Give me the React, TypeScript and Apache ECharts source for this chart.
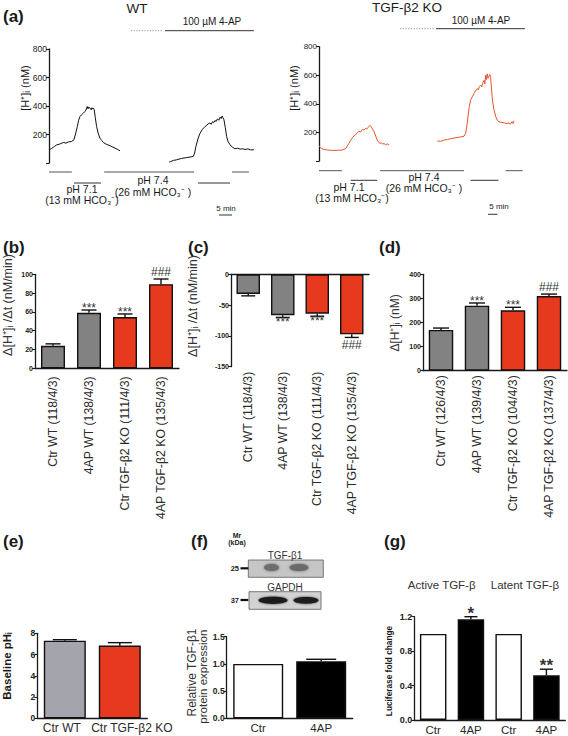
import React, { useEffect, useRef } from 'react';
import * as echarts from 'echarts';

const FONT = '"Liberation Sans", Arial, Helvetica, sans-serif';
const INK = '#1a1a1a';
const GREY = '#828282';
const GREY_E = '#a4a4ac';
const RED = '#e6391d';
const TRACE_RED = '#e6532c';

// ---------- (a) [H+]i traces: [time (min), [H+]i (nM)] ----------
const wtSeg1: [number, number][] = [
  [0.1, 93], [1.0, 102], [2.0, 115], [2.9, 127], [4.0, 132], [5.5, 144], [6.5, 140], [7.5, 148],
  [8.7, 151], [9.6, 163], [10.3, 210], [10.9, 256], [11.4, 300], [11.9, 326], [12.5, 338], [13.2, 350],
  [13.8, 361], [14.2, 372], [14.7, 396], [15.0, 380], [15.3, 392], [15.8, 385], [16.2, 374], [16.5, 388],
  [16.8, 378], [17.1, 384], [17.4, 373], [17.8, 320], [18.3, 256], [18.9, 210], [19.6, 174], [20.3, 158],
  [20.9, 144], [22.0, 132], [23.5, 121], [25.0, 108], [26.2, 97], [27.3, 86],
];
const wtSeg2: [number, number][] = [
  [46.2, 6], [46.8, 10], [47.8, 18], [49.0, 22], [51.0, 32], [53.0, 38], [55.5, 46], [56.0, 70],
  [56.5, 116], [57.3, 170], [58.1, 209], [59.0, 236], [60.0, 256], [60.6, 262], [61.2, 275], [61.9, 280],
  [62.4, 272], [62.9, 290], [63.4, 284], [63.8, 298], [64.3, 292], [64.8, 310], [65.3, 300], [65.8, 321],
  [66.2, 312], [66.6, 330], [66.9, 318], [67.3, 303], [67.8, 250], [68.3, 186], [68.9, 150], [69.6, 128],
  [70.5, 112], [71.5, 100], [72.5, 104], [73.5, 97], [74.5, 100], [75.4, 95], [76.5, 99], [77.6, 92], [78.8, 93],
];
const koSeg1: [number, number][] = [
  [0, 105], [0.6, 95], [1.3, 84], [2.2, 80], [3.2, 77], [4.5, 75], [5.8, 74], [7.5, 75], [9.0, 77],
  [10.3, 88], [11.5, 123], [12.2, 145], [12.8, 163], [13.5, 176], [14.1, 186], [14.8, 196], [15.4, 209],
  [16.0, 203], [16.7, 221], [17.3, 217], [18.0, 228], [18.4, 224], [18.8, 233], [19.3, 244], [19.6, 249],
  [20.1, 240], [20.6, 224], [21.2, 205], [21.8, 175], [22.4, 147], [23.0, 130], [23.5, 123], [24.0, 128],
  [24.5, 118], [25.0, 123], [25.5, 114], [26.2, 120], [26.9, 112],
];
const koSeg2: [number, number][] = [
  [45.5, 140], [46.8, 138], [48.1, 147], [49.4, 150], [50.6, 156], [51.9, 160], [53.2, 165], [54.5, 168],
  [55.8, 174], [56.4, 193], [56.9, 250], [57.3, 309], [57.8, 380], [58.3, 426], [59.0, 450], [59.6, 472],
  [60.2, 490], [60.9, 507], [61.3, 498], [61.7, 522], [62.2, 530], [62.6, 518], [63.0, 548], [63.5, 565],
  [63.8, 540], [64.1, 600], [64.4, 570], [64.7, 610], [65.0, 580], [65.4, 593], [65.7, 605], [66.0, 584],
  [66.3, 520], [66.7, 426], [67.3, 360], [68.0, 309], [68.6, 285], [69.2, 274], [70.2, 270], [71.2, 267],
  [72.2, 262], [73.1, 267], [73.6, 258], [74.2, 275], [74.6, 262], [75.0, 281],
];
// solution periods [start min, end min, level (0 = pH 7.4, 1 = pH 7.1)]
const wtSolutions: [number, number, number][] = [[0, 8.8, 0], [9.6, 20, 1], [21.2, 55.8, 0], [57.3, 69.6, 1], [70.4, 76.9, 0]];
const koSolutions: [number, number, number][] = [[0, 8.8, 0], [12.2, 22.4, 1], [23.5, 55.8, 0], [58.3, 69.0, 1], [71.8, 78.3, 0]];
// 4-AP application [dotted start, solid start, end] in min
const wtDrug = [31.5, 44.6, 78.8];
const koDrug = [31.2, 45.0, 79.2];

// ---------- (b)(c)(d) ----------
const bcCategories = ['Ctr WT (118/4/3)', '4AP WT (138/4/3)', 'Ctr TGF-β2 KO (111/4/3)', '4AP TGF-β2 KO (135/4/3)'];
const bValues = [24, 59, 54.5, 89.5];
const bErrTop = [26, 62, 57.8, 95];
const bMarks = ['', '***', '***', '###'];
const cValues = [-32, -66.5, -64, -97.5];
const cErrTop = [-35, -70, -68, -102.5];
const cMarks = ['', '***', '***', '###'];
const dCategories = ['Ctr WT (126/4/3)', '4AP WT (139/4/3)', 'Ctr TGF-β2 KO (104/4/3)', '4AP TGF-β2 KO (137/4/3)'];
const dValues = [169, 270, 250.5, 310];
const dErrTop = [177, 281, 263, 318];
const dMarks = ['', '***', '***', '###'];
const bcdColors = [GREY, GREY, RED, RED];

// ---------- (e)(f)(g) ----------
const eCategories = ['Ctr WT', 'Ctr TGF-β2 KO'];
const eValues = [7.31, 6.84];
const eErrTop = [7.4, 7.12];
const eColors = [GREY_E, RED];
const fCategories = ['Ctr', '4AP'];
const fValues = [1.0, 1.05];
const fErrTop = [1.0, 1.085];
const fColors = ['#ffffff', '#000000'];
const gCategories = ['Ctr', '4AP', 'Ctr', '4AP'];
const gValues = [1.0, 1.17, 1.0, 0.52];
const gErrTop = [1.0, 1.2, 1.0, 0.59];
const gMarks = ['', '*', '', '**'];
const gColors = ['#ffffff', '#000000', '#ffffff', '#000000'];

// ---------- layout ----------
const A1 = { left: 49, top: 49, width: 208, height: 114 };
const A2 = { left: 319, top: 46.7, width: 208, height: 114.3 };
const A_MAX = 80;

function tx(text: string, x: number, y: number, o: any = {}) {
  return {
    type: 'text', x, y, rotation: o.rot || 0, silent: true, z: 50,
    style: {
      text, fill: o.color || INK, fontSize: o.size || 10, fontWeight: o.bold ? 'bold' : 'normal',
      fontFamily: FONT, textAlign: o.align || 'center', align: o.align || 'center',
      textVerticalAlign: 'middle', verticalAlign: 'middle',
    },
  };
}
const vt = (text: string, x: number, y: number, o: any = {}) => tx(text, x, y, { ...o, rot: Math.PI / 2 });
function ln(x1: number, y1: number, x2: number, y2: number, o: any = {}) {
  return {
    type: 'line', silent: true, z: 50,
    shape: { x1, y1, x2, y2 },
    style: { stroke: o.color || '#333', lineWidth: o.w || 1, lineDash: o.dash || null },
  };
}

function catAxis(gridIndex: number, data: string[], o: any = {}) {
  return {
    gridIndex, type: 'category', data, position: o.position || 'bottom',
    axisLine: { show: o.line !== false, onZero: false, lineStyle: { color: INK, width: 1.3 } },
    axisTick: { show: false },
    axisLabel: {
      show: o.labels !== false, interval: 0, rotate: o.rotate || 0, fontSize: o.size || 11,
      color: '#2a2a2a', margin: o.margin ?? 4, fontFamily: FONT,
      formatter: o.formatter, rich: o.rich,
    },
    splitLine: { show: false },
  };
}
function valAxis(gridIndex: number, min: number, max: number, interval: number, o: any = {}) {
  return {
    gridIndex, type: 'value', min, max, interval,
    axisLine: { show: true, onZero: false, lineStyle: { color: INK, width: 1.3 } },
    axisTick: { show: true, length: 3, lineStyle: { color: INK, width: 1.1 } },
    axisLabel: {
      fontSize: o.size || 7, fontWeight: o.bold === false ? 'normal' : 'bold', color: '#222',
      margin: 2, fontFamily: FONT, formatter: o.formatter,
    },
    splitLine: { show: false },
  };
}

function barSeries(xi: number, yi: number, values: number[], colors: string[], width: number) {
  return {
    type: 'bar', xAxisIndex: xi, yAxisIndex: yi, barWidth: width, silent: true,
    data: values.map((v, i) => ({ value: v, itemStyle: { color: colors[i], borderColor: '#111', borderWidth: 1.4 } })),
  };
}
function errSeries(xi: number, yi: number, values: number[], tops: number[], marks: string[], capW: number, markSize: number, markBold = false) {
  return {
    type: 'custom', xAxisIndex: xi, yAxisIndex: yi, z: 5, silent: true,
    data: values.map((v, i) => [i, v, tops[i]]),
    renderItem: (params: any, api: any) => {
      const i = api.value(0), v = api.value(1), e = api.value(2);
      const p0 = api.coord([i, v]);
      const p1 = api.coord([i, e]);
      const neg = e < v;
      const children: any[] = [];
      if (e !== v) {
        children.push({ type: 'line', shape: { x1: p0[0], y1: p0[1], x2: p1[0], y2: p1[1] }, style: { stroke: '#111', lineWidth: 1.4 } });
        children.push({ type: 'line', shape: { x1: p1[0] - capW / 2, y1: p1[1], x2: p1[0] + capW / 2, y2: p1[1] }, style: { stroke: '#111', lineWidth: 1.4 } });
      }
      const m = marks[params.dataIndex];
      if (m) {
        const star = m.indexOf('*') >= 0;
        const dy = neg ? (star ? -1 : 2) : (star ? -markSize * 0.3 : 1);
        children.push({
          type: 'text', x: p1[0], y: neg ? p1[1] + dy : p1[1] - dy,
          style: {
            text: m, fontSize: markSize, fontFamily: FONT, fill: '#333', fontWeight: markBold ? 'bold' : 'normal',
            align: 'center', textAlign: 'center',
            verticalAlign: neg ? 'top' : 'bottom', textVerticalAlign: neg ? 'top' : 'bottom',
          },
        });
      }
      return { type: 'group', children };
    },
  };
}

function traceGraphics(g: { left: number; top: number; width: number; height: number }, sol: [number, number, number][], yLevels: number[]) {
  const px = (m: number) => g.left + (m / A_MAX) * g.width;
  const els: any[] = [];
  sol.forEach(([s, e, lv]) => els.push(ln(px(s), yLevels[lv], px(e), yLevels[lv], { color: lv ? '#333' : '#555', w: 1 })));
  return { px, els };
}

function buildOption() {
  const wt = traceGraphics(A1, wtSolutions, [172, 183]);
  const ko = traceGraphics(A2, koSolutions, [170.7, 180.3]);
  const aFmt = (v: number) => (v === 0 ? '' : String(v));

  const graphics: any[] = [
    // panel letters
    tx('(a)', 3, 16, { size: 17, bold: true, align: 'left' }),
    tx('(b)', 3, 247, { size: 17, bold: true, align: 'left' }),
    tx('(c)', 188, 247.5, { size: 17, bold: true, align: 'left' }),
    tx('(d)', 379, 247, { size: 17, bold: true, align: 'left' }),
    tx('(e)', 3, 541, { size: 17, bold: true, align: 'left' }),
    tx('(f)', 191, 541, { size: 17, bold: true, align: 'left' }),
    tx('(g)', 384, 541, { size: 17, bold: true, align: 'left' }),

    // (a) WT
    tx('WT', 137, 8, { size: 13.5 }),
    tx('100 µM 4-AP', 212, 21, { size: 10 }),
    ln(wt.px(wtDrug[0]), 30.7, wt.px(wtDrug[1]) - 2, 30.7, { color: '#777', w: 0.8, dash: [1.2, 1.5] }),
    ln(wt.px(wtDrug[1]), 30.7, wt.px(wtDrug[2]), 30.7, { color: '#333', w: 1 }),
    vt('[H⁺]ᵢ (nM)', 25, 88, { size: 11 }),
    ...wt.els,
    tx('pH 7.1', 82, 189.3, { size: 10.5 }),
    tx('(13 mM HCO₃⁻)', 82, 200, { size: 10.5 }),
    tx('pH 7.4', 153, 180, { size: 10.5 }),
    tx('(26 mM HCO₃⁻ )', 153, 191.7, { size: 10.5 }),
    tx('5 min', 226, 208.3, { size: 8 }),
    ln(219, 215, 232, 215, { color: '#333', w: 1 }),

    // (a) KO
    tx('TGF-β2 KO', 407, 7, { size: 13.5 }),
    tx('100 µM 4-AP', 481, 20, { size: 10 }),
    ln(ko.px(koDrug[0]), 28.7, ko.px(koDrug[1]) - 2, 28.7, { color: '#777', w: 0.8, dash: [1.2, 1.5] }),
    ln(ko.px(koDrug[1]), 28.7, ko.px(koDrug[2]), 28.7, { color: '#333', w: 1 }),
    vt('[H⁺]ᵢ (nM)', 294, 88, { size: 11 }),
    ...ko.els,
    tx('pH 7.1', 349, 186.7, { size: 10.5 }),
    tx('(13 mM HCO₃⁻)', 352, 198, { size: 10.5 }),
    tx('pH 7.4', 424, 176.7, { size: 10.5 }),
    tx('(26 mM HCO₃⁻ )', 424, 188, { size: 10.5 }),
    tx('5 min', 499, 206.7, { size: 8 }),
    ln(488, 214.3, 497.5, 214.3, { color: '#333', w: 1 }),

    // y titles b c d
    vt('Δ[H⁺]ᵢ /Δt (nM/min)', 7.5, 305, { size: 12.5, color: '#333' }),
    vt('Δ[H⁺]ᵢ /Δt (nM/min)', 192.5, 306, { size: 12.5, color: '#333' }),
    vt('Δ[H⁺]ᵢ (nM)', 394.5, 323, { size: 12, color: '#333' }),

    // y titles e f g
    vt('Baseline pHᵢ', 7, 666, { size: 11.5, bold: true }),
    vt('Relative TGF-β1', 191.7, 672.5, { size: 12, color: '#333' }),
    vt('protein expression', 203.3, 676.7, { size: 11.5, color: '#333' }),
    vt('Luciferase fold change', 389, 671, { size: 8.3, bold: true }),

    // (f) blot
    tx('Mr', 237, 535, { size: 7, bold: true }),
    tx('(kDa)', 237, 542.7, { size: 7, bold: true }),
    tx('TGF-β1', 285, 555, { size: 10, color: '#333' }),
    { type: 'rect', silent: true, z: 40, shape: { x: 248.3, y: 560, width: 75, height: 17.3 }, style: { fill: '#c6c6c6', stroke: '#5a5a5a', lineWidth: 0.8 } },
    { type: 'ellipse', silent: true, z: 41, shape: { cx: 271.5, cy: 567.5, rx: 7.5, ry: 3.5 }, style: { fill: '#6e6e6e', shadowBlur: 3, shadowColor: '#6e6e6e' } },
    { type: 'ellipse', silent: true, z: 41, shape: { cx: 299, cy: 567.5, rx: 9.5, ry: 3.5 }, style: { fill: '#6a6a6a', shadowBlur: 3, shadowColor: '#6a6a6a' } },
    tx('25', 239, 568.3, { size: 7.5, bold: true, align: 'right' }),
    ln(240.5, 568.3, 248.3, 568.3, { color: '#111', w: 2.2 }),
    tx('GAPDH', 285, 587.3, { size: 10, color: '#333' }),
    { type: 'rect', silent: true, z: 40, shape: { x: 249, y: 591.7, width: 72, height: 17.6 }, style: { fill: '#d2d2d2', stroke: '#5a5a5a', lineWidth: 0.8 } },
    { type: 'ellipse', silent: true, z: 41, shape: { cx: 273, cy: 600.3, rx: 14.5, ry: 3.6 }, style: { fill: '#1c1c1c', shadowBlur: 2, shadowColor: '#333' } },
    { type: 'ellipse', silent: true, z: 41, shape: { cx: 306, cy: 600.3, rx: 12.5, ry: 3.4 }, style: { fill: '#1c1c1c', shadowBlur: 2, shadowColor: '#333' } },
    tx('37', 239, 600, { size: 7.5, bold: true, align: 'right' }),
    ln(240.5, 600, 248.3, 600, { color: '#111', w: 2.2 }),

    // (g) group titles
    tx('Active TGF-β', 441.7, 585, { size: 11.5, color: '#333' }),
    tx('Latent TGF-β', 525, 585, { size: 11.5, color: '#333' }),
  ];

  const eRich = {
    a: { fontSize: 12, fontFamily: FONT, color: '#2a2a2a', padding: [0, 6, 0, 0] },
    b: { fontSize: 12, fontFamily: FONT, color: '#2a2a2a', padding: [0, 0, 0, 24] },
  };

  return {
    animation: false,
    backgroundColor: '#ffffff',
    textStyle: { fontFamily: FONT },
    grid: [
      { ...A1, outerBoundsMode: 'none' },
      { ...A2, outerBoundsMode: 'none' },
      { left: 35, top: 274.3, width: 144, height: 94, outerBoundsMode: 'none' },
      { left: 231, top: 274.3, width: 138, height: 92.4, outerBoundsMode: 'none' },
      { left: 423, top: 274.3, width: 144, height: 96.4, outerBoundsMode: 'none' },
      { left: 37.3, top: 633.3, width: 110, height: 85, outerBoundsMode: 'none' },
      { left: 226.7, top: 636.7, width: 126, height: 81.6, outerBoundsMode: 'none' },
      { left: 414.3, top: 616.7, width: 151, height: 103.3, outerBoundsMode: 'none' },
    ],
    xAxis: [
      { gridIndex: 0, type: 'value', min: 0, max: A_MAX, show: false },
      { gridIndex: 1, type: 'value', min: 0, max: A_MAX, show: false },
      catAxis(2, bcCategories, { rotate: 90, margin: 8, size: 12.3 }),
      catAxis(3, bcCategories, { rotate: 90, margin: 5, size: 12.3, line: false }),
      catAxis(3, bcCategories, { position: 'top', labels: false }),
      catAxis(4, dCategories, { rotate: 90, margin: 4.5, size: 12.3 }),
      catAxis(5, eCategories, {
        margin: 4, size: 12, rich: eRich,
        formatter: (v: string, i: number) => (i === 0 ? `{a|${v}}` : `{b|${v}}`),
      }),
      catAxis(6, fCategories, { margin: 4, size: 11.5 }),
      catAxis(7, gCategories, { margin: 4, size: 11.5 }),
    ],
    yAxis: [
      valAxis(0, 0, 800, 200, { size: 8.5, bold: false, formatter: aFmt }),
      valAxis(1, 0, 800, 200, { size: 8, bold: false, formatter: aFmt }),
      valAxis(2, 0, 100, 20, { size: 7 }),
      valAxis(3, -150, 0, 50, { size: 7 }),
      valAxis(4, 0, 400, 100, { size: 7 }),
      valAxis(5, 0, 8, 2, { size: 8.5 }),
      valAxis(6, 0, 1.5, 0.5, { size: 8.5, formatter: (v: number) => v.toFixed(1) }),
      valAxis(7, 0, 1.2, 0.4, { size: 9, formatter: (v: number) => v.toFixed(1) }),
    ],
    series: [
      { type: 'line', xAxisIndex: 0, yAxisIndex: 0, data: wtSeg1, showSymbol: false, symbol: 'none', silent: true, lineStyle: { color: '#111', width: 1 } },
      { type: 'line', xAxisIndex: 0, yAxisIndex: 0, data: wtSeg2, showSymbol: false, symbol: 'none', silent: true, lineStyle: { color: '#111', width: 1 } },
      { type: 'line', xAxisIndex: 1, yAxisIndex: 1, data: koSeg1, showSymbol: false, symbol: 'none', silent: true, lineStyle: { color: TRACE_RED, width: 1 } },
      { type: 'line', xAxisIndex: 1, yAxisIndex: 1, data: koSeg2, showSymbol: false, symbol: 'none', silent: true, lineStyle: { color: TRACE_RED, width: 1 } },

      barSeries(2, 2, bValues, bcdColors, 24),
      errSeries(2, 2, bValues, bErrTop, bMarks, 15, 12),
      barSeries(3, 3, cValues, bcdColors, 23.5),
      errSeries(3, 3, cValues, cErrTop, cMarks, 14, 12),
      barSeries(5, 4, dValues, bcdColors, 24.5),
      errSeries(5, 4, dValues, dErrTop, dMarks, 16, 12),
      barSeries(6, 5, eValues, eColors, 42),
      errSeries(6, 5, eValues, eErrTop, ['', ''], 24, 10),
      barSeries(7, 6, fValues, fColors, 50),
      errSeries(7, 6, fValues, fErrTop, ['', ''], 30, 10),
      barSeries(8, 7, gValues, gColors, 26.5),
      errSeries(8, 7, gValues, gErrTop, gMarks, 13, 17, true),
    ],
    graphic: { elements: graphics },
  };
}

export default function App() {
  const ref = useRef<HTMLDivElement>(null);
  useEffect(() => {
    if (!ref.current) return;
    const chart = echarts.init(ref.current, null, { renderer: 'svg' });
    chart.setOption(buildOption() as any);
    return () => chart.dispose();
  }, []);
  return (
    <div
      ref={ref}
      style={{ position: 'absolute', left: 0, top: 0, width: 568, height: 736, background: '#ffffff' }}
    />
  );
}
